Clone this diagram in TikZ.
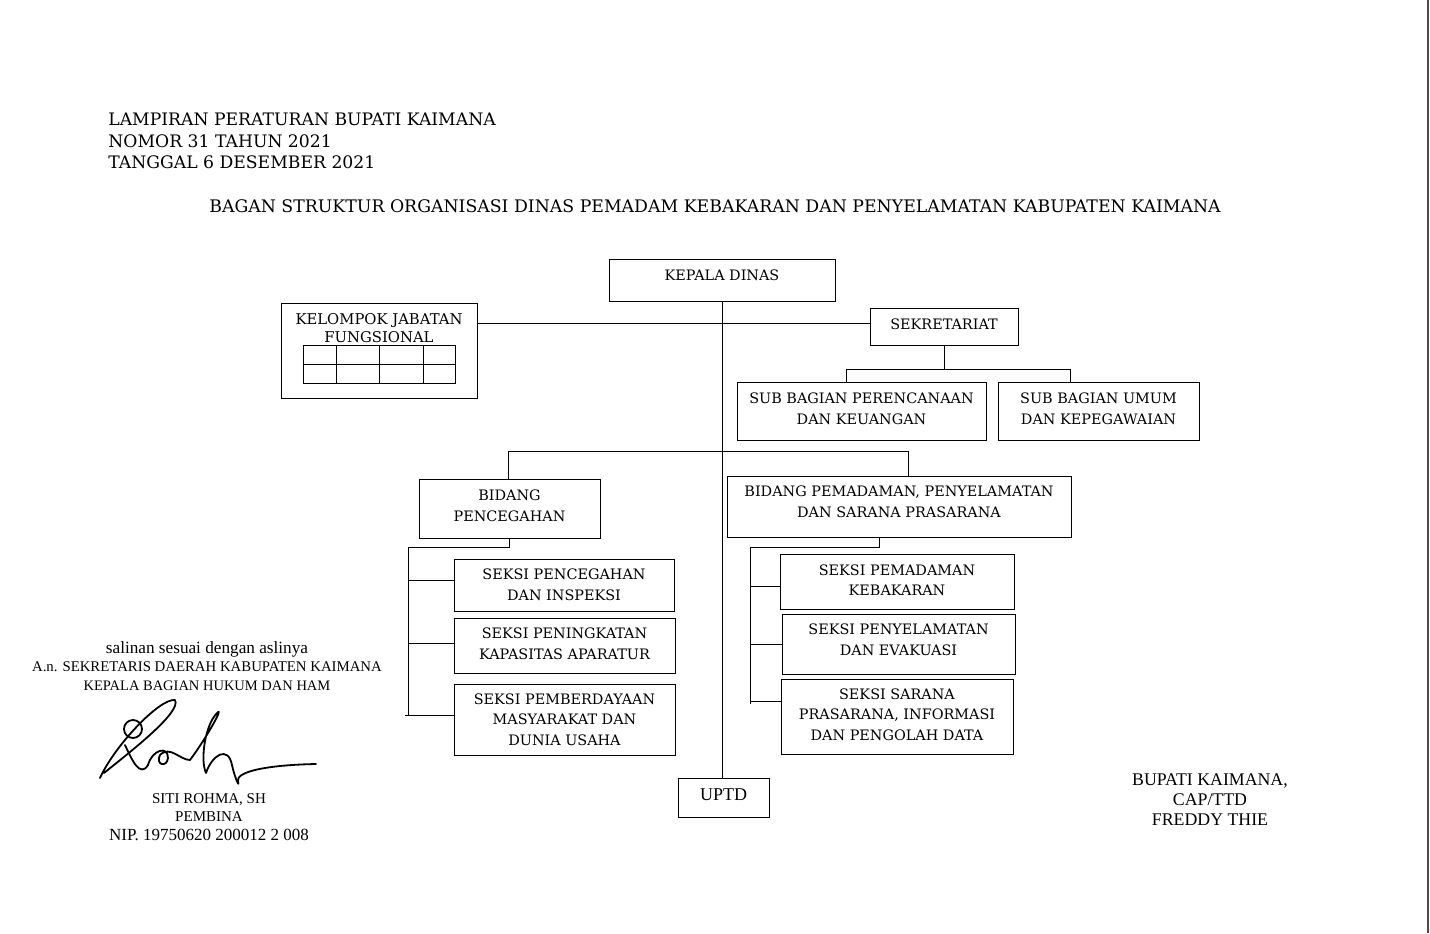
\documentclass[tikz,border=0pt]{standalone}
\usepackage{fontspec}
\setmainfont{DejaVu Serif}
\newfontfamily\timesfont{Liberation Serif}
\usepackage{tikz}
\usetikzlibrary{positioning, fit, calc}

\tikzset{
  box/.style={draw, line width=0.5pt, inner sep=0pt},
  boxtext/.style={align=center, inner sep=0pt, font=\fontsize{7.2}{10.3}\selectfont},
  link/.style={line width=0.5pt},
  sig/.style={line width=0.9pt, line cap=round, line join=round}
}

\begin{document}
\begin{tikzpicture}[x=0.5pt, y=-0.5pt]
  \useasboundingbox[fill=white] (0,0) rectangle (1430,933);

  % kop lampiran
  \node[anchor=west, inner sep=0pt, align=left, font=\fontsize{8.6}{10.9}\selectfont] (kop) at (108,141)
    {LAMPIRAN PERATURAN BUPATI KAIMANA\\NOMOR 31 TAHUN 2021\\TANGGAL 6 DESEMBER 2021};
  \node[font=\fontsize{8.65}{10.75}\selectfont] (judul) at (715,206)
    {BAGAN STRUKTUR ORGANISASI DINAS PEMADAM KEBAKARAN DAN PENYELAMATAN KABUPATEN KAIMANA};

  % pimpinan dan sekretariat
  \node[box, fit={(609,259) (835,301)},
        label={[boxtext, yshift=2.5pt]center:KEPALA DINAS}] (kepala) {};
  \node[box, fit={(281,303) (477,398)}] (kelompok) {};
  \node[align=center, font=\fontsize{7.4}{9}\selectfont] (kelompokteks) at (379,328)
    {KELOMPOK JABATAN\\FUNGSIONAL};
  \draw[link] (303,345) rectangle (455,383);
  \draw[link] (303,364) -- (455,364);
  \foreach \kx in {336,379,423}
    \draw[link] (\kx,345) -- (\kx,383);
  \node[box, fit={(870,308) (1018,345)},
        label={[boxtext, yshift=1.1pt]center:SEKRETARIAT}] (sekretariat) {};
  \node[box, fit={(737,382) (986,440)},
        label={[boxtext, yshift=1.1pt]center:SUB BAGIAN PERENCANAAN\\DAN KEUANGAN}] (subren) {};
  \node[box, fit={(998,382) (1199,440)},
        label={[boxtext, yshift=1.1pt]center:SUB BAGIAN UMUM\\DAN KEPEGAWAIAN}] (subumum) {};

  % bidang
  \node[box, fit={(419,479) (600,538)},
        label={[boxtext, yshift=1.25pt]center:BIDANG\\PENCEGAHAN}] (cegah) {};
  \node[box, fit={(727,476) (1071,537)},
        label={[boxtext, yshift=2.4pt]center:{BIDANG PEMADAMAN, PENYELAMATAN\\DAN SARANA PRASARANA}}] (padam) {};

  % seksi
  \node[box, fit={(454,559) (674,611)},
        label={[boxtext]center:SEKSI PENCEGAHAN\\DAN INSPEKSI}] (sekcegah) {};
  \node[box, fit={(454,618) (675,673)},
        label={[boxtext, yshift=0.9pt]center:SEKSI PENINGKATAN\\KAPASITAS APARATUR}] (sektingkat) {};
  \node[box, fit={(454,684) (675,755)},
        label={[boxtext]center:SEKSI PEMBERDAYAAN\\MASYARAKAT DAN\\DUNIA USAHA}] (sekberdaya) {};
  \node[box, fit={(780,554) (1014,609)},
        label={[boxtext, yshift=0.6pt]center:SEKSI PEMADAMAN\\KEBAKARAN}] (sekpadam) {};
  \node[box, fit={(782,614) (1015,674)},
        label={[boxtext, yshift=2pt]center:SEKSI PENYELAMATAN\\DAN EVAKUASI}] (sekselamat) {};
  \node[box, fit={(781,679) (1013,754)},
        label={[boxtext, yshift=0.9pt]center:{SEKSI SARANA\\PRASARANA, INFORMASI\\DAN PENGOLAH DATA}}] (seksarana) {};

  \node[box, fit={(678,778) (769,817)},
        label={[boxtext, yshift=1.6pt, font=\timesfont\fontsize{9}{11}\selectfont]center:UPTD}] (uptd) {};

  % garis
  \coordinate (renjoin) at (846,369);
  \coordinate (umjoin) at (1070,369);
  \coordinate (cegahjoin) at (508,451.5);
  \coordinate (padamjoin) at (908.5,451.5);
  \coordinate (cegahrail) at (408,547);
  \coordinate (cegahdrop) at (509.7,547);
  \coordinate (padamrail) at (750,547);
  \coordinate (padamdrop) at (879.3,547);
  \coordinate (insekre) at ([yshift=1.3pt]sekretariat.west);
  \coordinate (insekcegah) at ([yshift=2.5pt]sekcegah.west);
  \coordinate (insektingkat) at ([yshift=1.2pt]sektingkat.west);
  \coordinate (insekberdaya) at ([yshift=2pt]sekberdaya.west);
  \coordinate (insekpadam) at ([yshift=-2.5pt]sekpadam.west);
  \coordinate (inseksarana) at ([yshift=7.6pt]seksarana.west);

  \draw[link] (kepala.south) -- (kepala.south |- uptd.north);
  \draw[link] (insekre) -- (insekre -| kelompok.east);
  \draw[link] (sekretariat.south) -- (sekretariat.south |- renjoin);
  \draw[link] (renjoin |- subren.north) -- (renjoin) -- (umjoin) -- (umjoin |- subumum.north);
  \draw[link] (cegahjoin |- cegah.north) -- (cegahjoin) -- (padamjoin) -- (padamjoin |- padam.north);

  \draw[link] (cegahdrop |- cegah.south) -- (cegahdrop) -- (cegahrail) -- (cegahrail |- insekberdaya);
  \draw[link] (cegahrail |- insekcegah) -- (insekcegah);
  \draw[link] (cegahrail |- insektingkat) -- (insektingkat);
  \draw[link] ([xshift=-1.5pt]cegahrail |- insekberdaya) -- (insekberdaya);

  \draw[link] (padamdrop |- padam.south) -- (padamdrop) -- (padamrail)
    -- ([yshift=-1.5pt]padamrail |- inseksarana);
  \draw[link] (padamrail |- insekpadam) -- (insekpadam);
  \draw[link] (padamrail |- sekselamat.west) -- (sekselamat.west);
  \draw[link] (padamrail |- inseksarana) -- (inseksarana);

  % pengesahan
  \node[align=center, font=\timesfont\fontsize{7.4}{9.25}\selectfont] (salinan) at (207,666)
    {{\fontsize{8.6}{9.25}\selectfont salinan sesuai dengan aslinya}\\A.n. SEKRETARIS DAERAH KABUPATEN KAIMANA\\{\fontsize{7.25}{9.25}\selectfont KEPALA BAGIAN HUKUM DAN HAM}};
  \node[align=center, font=\timesfont\fontsize{7.5}{9.25}\selectfont] (pejabat) at (209,817)
    {SITI ROHMA, SH\\PEMBINA\\{\fontsize{8.5}{9.25}\selectfont NIP. 19750620 200012 2 008}};
  \draw[sig] (100,778) .. controls (115,745) and (160,698) .. (175,700)
    .. controls (182,712) and (130,752) .. (104,773);
  \draw[sig] (133,729) circle[radius=9];
  \draw[sig] (125,745) .. controls (132,760) and (140,778) .. (148,765)
    .. controls (152,750) and (168,745) .. (168,758)
    .. controls (167,768) and (155,765) .. (160,755)
    .. controls (170,745) and (180,760) .. (190,760)
    .. controls (205,740) and (225,705) .. (217,713)
    .. controls (205,725) and (200,760) .. (206,773)
    .. controls (212,755) and (228,745) .. (232,765)
    .. controls (234,775) and (240,790) .. (238,781)
    .. controls (236,772) and (265,765) .. (316,764);
  \node[align=center, font=\timesfont\fontsize{8.9}{10}\selectfont] (bupati) at (1210,800)
    {BUPATI KAIMANA,\\CAP/TTD\\FREDDY THIE};

  \draw[black!70, line width=1pt] (1428,0) -- (1428,933);
\end{tikzpicture}
\end{document}
